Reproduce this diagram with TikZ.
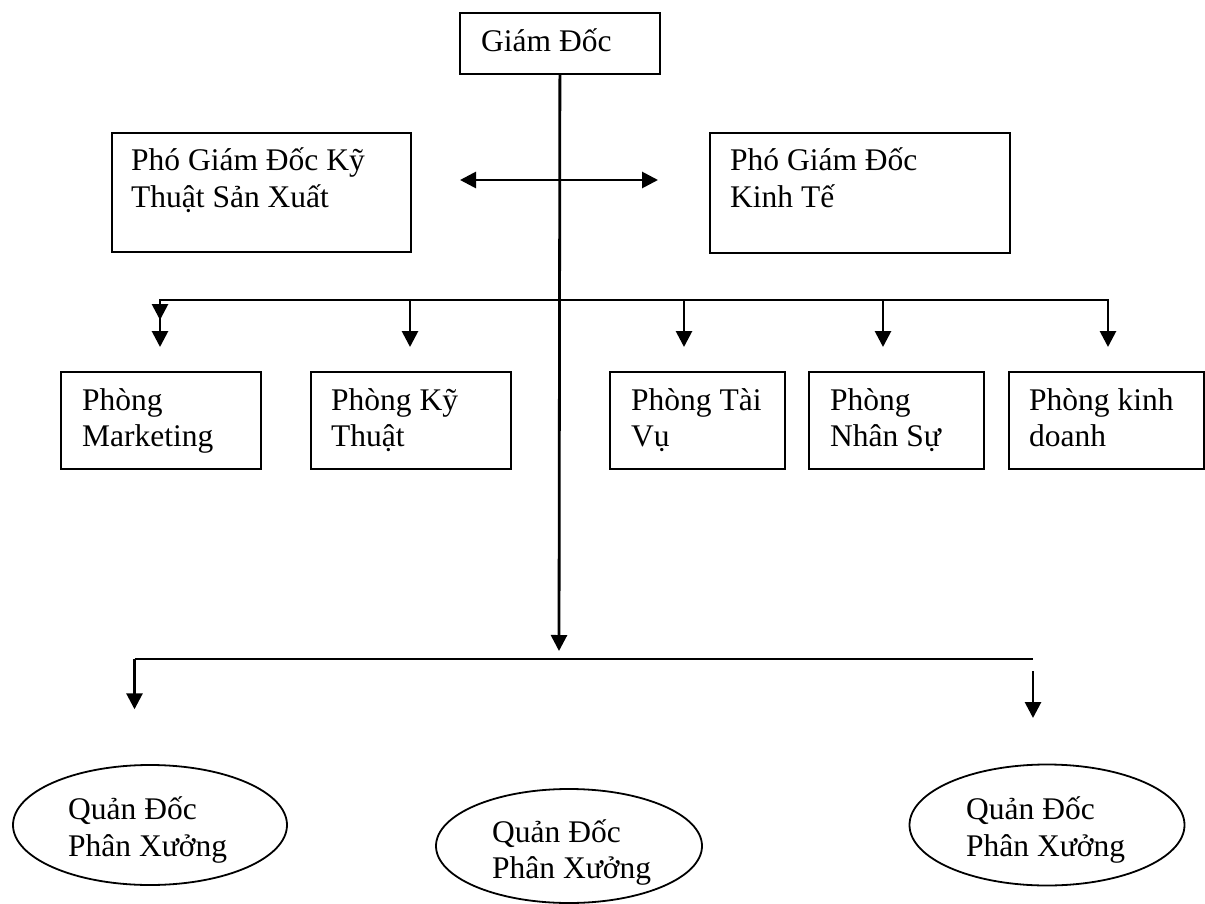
\documentclass[tikz,border=0pt]{standalone}
\usepackage{fontspec}
\setmainfont{Liberation Serif}
\usetikzlibrary{arrows.meta,shapes.geometric}

\begin{document}
\begin{tikzpicture}[x=1pt,y=-1pt]
\tikzset{
  box/.style={draw, line width=1.8pt, inner sep=0pt, anchor=north west},
  oval/.style={draw, ellipse, line width=1.8pt, inner sep=0pt},
  % multi-line labels are placed by the baseline of their last line
  txt/.style={anchor=base west, align=left, inner sep=0pt,
              font=\fontsize{31.5}{36.5}\selectfont},
  conn/.style={line width=2.8pt},
  bus/.style={line width=2.3pt},
  tip/.style={-{Triangle[length=16pt,width=16pt]}},
  tips/.style={{Triangle[length=16pt,width=16pt]}-{Triangle[length=16pt,width=16pt]}},
}
\useasboundingbox (0,0) rectangle (1205,904);

% --- management boxes ---
\node[box, minimum width=200pt, minimum height=61pt]  (gd)   at (459,12)  {};
\node[box, minimum width=299pt, minimum height=119pt] (pgd1) at (111,132) {};
\node[box, minimum width=300pt, minimum height=120pt] (pgd2) at (709,132) {};

\node[txt] (gd-t)   at ([shift={(22,40)}]gd.north west)     {Giám Đốc};
\node[txt] (pgd1-t) at ([shift={(20,75.5)}]pgd1.north west) {Phó Giám Đốc Kỹ\\Thuật Sản Xuất};
\node[txt] (pgd2-t) at ([shift={(21,75.5)}]pgd2.north west) {Phó Giám Đốc\\Kinh Tế};

% --- departments ---
\node[box, minimum width=200pt, minimum height=97pt] (p1) at (60,371)    {};
\node[box, minimum width=200pt, minimum height=97pt] (p2) at (310,371)   {};
\node[box, minimum width=175pt, minimum height=97pt] (p3) at (609,371)   {};
\node[box, minimum width=175pt, minimum height=97pt] (p4) at (808,371)   {};
\node[box, minimum width=195pt, minimum height=97pt] (p5) at (1008,371)  {};

\node[txt] (p1-t) at ([shift={(22,75.5)}]p1.north west) {Phòng\\Marketing};
\node[txt] (p2-t) at ([shift={(21,75.5)}]p2.north west) {Phòng Kỹ\\Thuật};
\node[txt] (p3-t) at ([shift={(22,75.5)}]p3.north west) {Phòng Tài\\Vụ};
\node[txt] (p4-t) at ([shift={(22,75.5)}]p4.north west) {Phòng\\Nhân Sự};
\node[txt] (p5-t) at ([shift={(21,75.5)}]p5.north west) {Phòng kinh\\doanh};

% --- workshop foremen ---
\node[oval, minimum width=274pt, minimum height=120pt] (q1) at (150,825)  {};
\node[oval, minimum width=266pt, minimum height=114pt] (q2) at (569,846)  {};
\node[oval, minimum width=275pt, minimum height=121pt] (q3) at (1047,825) {};

\node[txt] (q1-t) at (68,856)    {Quản Đốc\\Phân Xưởng};
\node[txt] (q2-t) at (492,878.5) {Quản Đốc\\Phân Xưởng};
\node[txt] (q3-t) at (966,856)   {Quản Đốc\\Phân Xưởng};

% --- connector points ---
\coordinate (trunk) at (559,651);
\coordinate (vl) at (460,180);
\coordinate (vr) at (658,180);

\coordinate (b1) at (160,300);   \coordinate (t1) at (160,347);  \coordinate (m1) at (160,320);
\coordinate (b2) at (410,300);   \coordinate (t2) at (410,347);
\coordinate (b3) at (684,300);   \coordinate (t3) at (684,347);
\coordinate (b4) at (883,300);   \coordinate (t4) at (883,347);
\coordinate (b5) at (1108,300);  \coordinate (t5) at (1108,347);

\coordinate (c1) at (134.5,659.3); \coordinate (d1) at (134.5,709.3);
\coordinate (c2) at (1033,659.3);
\coordinate (e2) at (1033,671);    \coordinate (d2) at (1033,718);

% --- connectors ---
\draw[conn, tip]  (gd.south) -- (trunk);
\draw[conn, tips] (vl) -- (vr);

\draw[bus, line cap=rect] (b1) -- (b5);
\draw[conn, tip] (b1) -- (m1);
\draw[conn, tip] (b1) -- (t1);
\draw[conn, tip] (b2) -- (t2);
\draw[conn, tip] (b3) -- (t3);
\draw[conn, tip] (b4) -- (t4);
\draw[conn, tip] (b5) -- (t5);

\draw[bus] (c1) -- (c2);
\draw[conn, tip] (c1) -- (d1);
\draw[conn, tip] (e2) -- (d2);
\end{tikzpicture}
\end{document}
